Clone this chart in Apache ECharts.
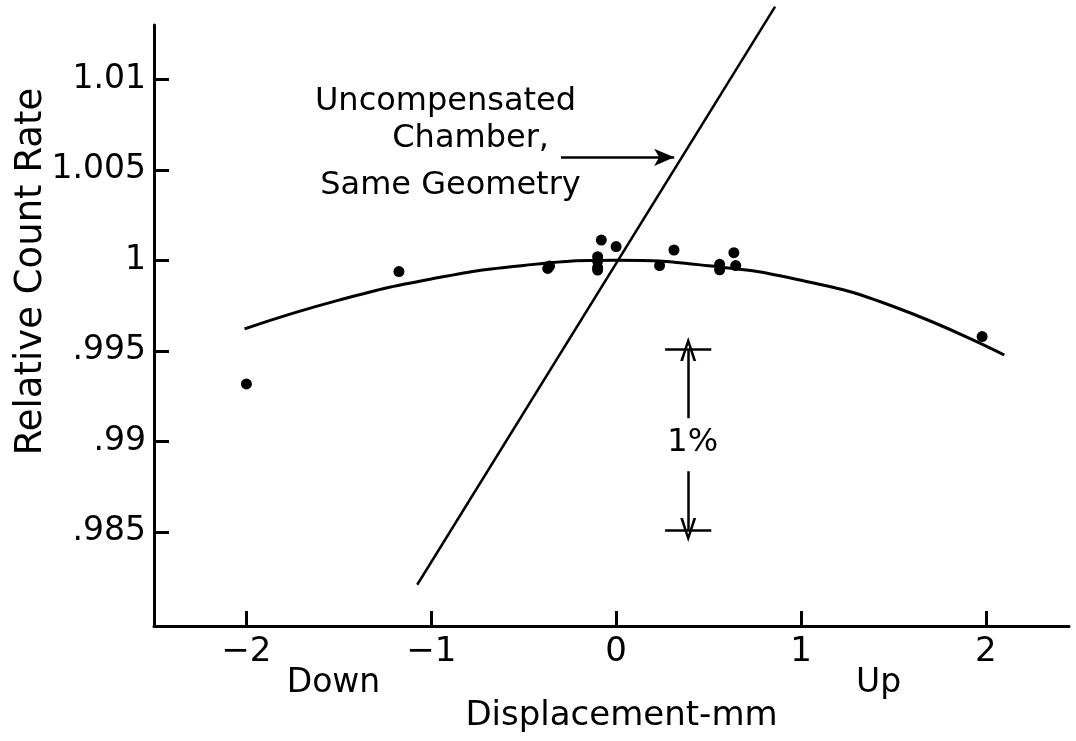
<!DOCTYPE html>
<html>
<head>
<meta charset="utf-8">
<script src="https://cdn.jsdelivr.net/npm/echarts@6/dist/echarts.min.js"></script>
<style>
html,body{margin:0;padding:0;background:#fff;}
#chart{width:1076px;height:741px;}
</style>
</head>
<body>
<div id="chart"></div>
<script>
// ---- data ----
const xTickValues = [-2, -1, 0, 1, 2];
const xTickLabels = ['\u22122', '\u22121', '0', '1', '2'];
const yTickValues = [0.985, 0.99, 0.995, 1, 1.005, 1.01];
const yTickLabels = ['.985', '.99', '.995', '1', '1.005', '1.01'];

// measured points
const pointsX = [-2.0, -1.175, -0.37, -0.36, -0.10, -0.10, -0.10, -0.10, -0.08, 0.0, 0.235, 0.313, 0.56, 0.56, 0.637, 0.647, 1.98];
const pointsY = [0.99317, 0.99938, 0.99955, 0.99968, 1.00020, 0.99995, 0.99960, 0.99946, 1.00112, 1.00076, 0.99971, 1.00057, 0.99978, 0.99948, 1.00042, 0.99971, 0.99579];

// fitted curve (compensated chamber) as drawn
const curveX = [-2.01, -1.5, -1.0, -0.5, 0.0, 0.5, 1.0, 1.5, 2.10];
const curveY = [0.99621, 0.99780, 0.99897, 0.99972, 1.00000, 0.99970, 0.99890, 0.99745, 0.99477];

// uncompensated chamber straight line
const uncompX = [-1.076, 0.86];
const uncompY = [0.98208, 1.01402];

// 1% scale bracket
const bracketTop = 0.9951;
const bracketBottom = 0.9851;
const bracketX = 0.39;
const bracketHalfWidth = 0.125;

// arrow to uncompensated line
const arrowY = 1.00569;
const arrowFromX = -0.298;
const arrowToX = 0.314;

const FONT = 'DejaVu Sans';

function labelFor(values, labels, v) {
  for (let i = 0; i < values.length; i++) {
    if (Math.abs(values[i] - v) < 1e-7) return labels[i];
  }
  return '';
}

const chart = echarts.init(document.getElementById('chart'), null, { renderer: 'canvas' });

const chevronUp = 'path://M0,0 L8,22 L5.2,22 L0,7 L-5.2,22 L-8,22 Z';

const option = {
  backgroundColor: '#ffffff',
  animation: false,
  textStyle: { fontFamily: FONT, color: '#000' },
  grid: { left: 154, right: 7, top: 25, bottom: 115, outerBoundsMode: 'none', containLabel: false },
  xAxis: {
    type: 'value',
    min: -2.5,
    max: 2.45,
    name: 'Displacement-mm',
    nameLocation: 'middle',
    nameGap: 73,
    nameMoveOverlap: false,
    nameTextStyle: { fontFamily: FONT, fontSize: 34, color: '#000', padding: [0, 0, 0, 20] },
    axisLine: { show: true, onZero: false, lineStyle: { color: '#000', width: 3 } },
    axisTick: { show: true, inside: true, length: 15, lineStyle: { color: '#000', width: 3 }, customValues: xTickValues },
    axisLabel: {
      show: true, margin: 9, fontFamily: FONT, fontSize: 34, color: '#000',
      customValues: xTickValues,
      formatter: v => labelFor(xTickValues, xTickLabels, v)
    },
    splitLine: { show: false }
  },
  yAxis: {
    type: 'value',
    min: 0.9798,
    max: 1.013,
    name: 'Relative Count Rate',
    nameLocation: 'middle',
    nameRotate: 90,
    nameGap: 104,
    nameMoveOverlap: false,
    nameTextStyle: { fontFamily: FONT, fontSize: 37, color: '#000', padding: [0, 0, 0, 108] },
    axisLine: { show: true, onZero: false, lineStyle: { color: '#000', width: 3 } },
    axisTick: { show: true, inside: true, length: 15, lineStyle: { color: '#000', width: 3 }, customValues: yTickValues },
    axisLabel: {
      show: true, margin: 8, fontFamily: FONT, fontSize: 33, color: '#000',
      customValues: yTickValues,
      formatter: v => labelFor(yTickValues, yTickLabels, v)
    },
    splitLine: { show: false }
  },
  series: [
    {
      name: 'Compensated chamber fit',
      type: 'line',
      smooth: 0.5,
      showSymbol: false,
      data: curveX.map((x, i) => [x, curveY[i]]),
      lineStyle: { color: '#000', width: 3 },
      z: 3
    },
    {
      name: 'Uncompensated chamber',
      type: 'line',
      showSymbol: false,
      clip: false,
      data: uncompX.map((x, i) => [x, uncompY[i]]),
      lineStyle: { color: '#000', width: 2.5 },
      z: 3,
      markLine: {
        silent: true,
        animation: false,
        label: { show: false },
        lineStyle: { color: '#000', width: 2.5, type: 'solid' },
        data: [
          [ { coord: [arrowFromX, arrowY], symbol: 'none' }, { coord: [arrowToX, arrowY], symbol: 'arrow', symbolSize: [13, 20] } ],
          [ { coord: [bracketX - bracketHalfWidth, bracketTop], symbol: 'none' }, { coord: [bracketX + bracketHalfWidth, bracketTop], symbol: 'none' } ],
          [ { coord: [bracketX - bracketHalfWidth, bracketBottom], symbol: 'none' }, { coord: [bracketX + bracketHalfWidth, bracketBottom], symbol: 'none' } ],
          [ { coord: [bracketX, 0.99128], symbol: 'none' }, { coord: [bracketX, bracketTop], symbol: chevronUp, symbolSize: [16, 24] } ],
          [ { coord: [bracketX, 0.98835], symbol: 'none' }, { coord: [bracketX, bracketBottom], symbol: chevronUp, symbolSize: [16, 24] } ]
        ]
      }
    },
    {
      name: 'Measured',
      type: 'scatter',
      symbol: 'circle',
      symbolSize: 11,
      data: pointsX.map((x, i) => [x, pointsY[i]]),
      itemStyle: { color: '#000', opacity: 1 },
      z: 4
    }
  ]
};

chart.setOption(option);

// annotations anchored in data coordinates
const annotations = [
  { text: 'Uncompensated', x: -0.923, y: 1.00878, size: 32 },
  { text: 'Chamber,', x: -0.787, y: 1.00673, size: 32 },
  { text: 'Same Geometry', x: -0.896, y: 1.00414, size: 32 },
  { text: '1%', x: 0.414, y: 0.98990, size: 32 },
  { text: 'Down', x: -1.529, y: 0.97665, size: 33 },
  { text: 'Up', x: 1.42, y: 0.97665, size: 33 }
];

const graphics = annotations.map(a => {
  const p = chart.convertToPixel({ gridIndex: 0 }, [a.x, a.y]);
  return {
    type: 'text',
    x: p[0],
    y: p[1],
    silent: true,
    style: {
      text: a.text,
      fontFamily: FONT,
      fontSize: a.size,
      fill: '#000',
      align: 'center',
      verticalAlign: 'middle'
    },
    z: 10
  };
});
chart.setOption({ graphic: graphics });
</script>
</body>
</html>
